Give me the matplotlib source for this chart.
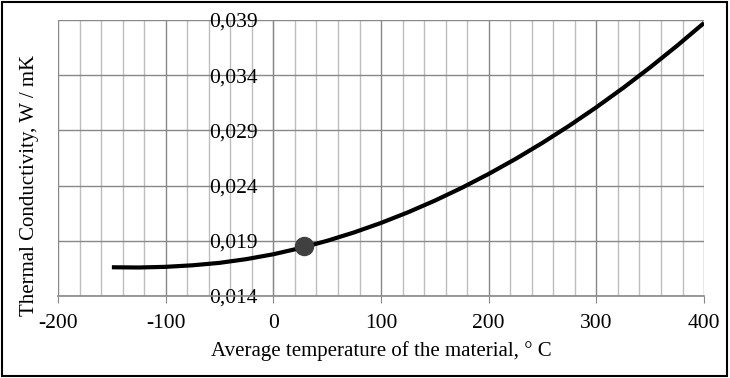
import matplotlib.pyplot as plt
from matplotlib.patches import Rectangle
from matplotlib.ticker import MultipleLocator

# values
temperature = [-150, -125, -100, -75, -50, -25, 0, 25, 50, 75, 100, 125, 150,
               175, 200, 225, 250, 275, 300, 325, 350, 375, 400]
conductivity = [0.01660, 0.01658, 0.01664, 0.01678, 0.01700, 0.01734, 0.01778,
                0.01834, 0.01900, 0.01976, 0.02062, 0.02158, 0.02264, 0.02380,
                0.02506, 0.02642, 0.02788, 0.02944, 0.03110, 0.03286, 0.03472,
                0.03668, 0.03874]
point_t = [28]
point_k = [0.0185]

x_ticks = [-200, -100, 0, 100, 200, 300, 400]
y_ticks = [0.014, 0.019, 0.024, 0.029, 0.034, 0.039]
y_labels = ["0,014", "0,019", "0,024", "0,029", "0,034", "0,039"]

plt.rcParams['font.family'] = ['Liberation Serif', 'DejaVu Serif']

fig = plt.figure(figsize=(7.3, 3.78), dpi=100)
ax = fig.add_axes([0.0795, 0.217, 0.885, 0.730])

ax.set_xlim(-200, 400)
ax.set_ylim(0.014, 0.039)
ax.set_xticks(x_ticks)
ax.set_xticklabels([str(v) for v in x_ticks])
ax.xaxis.set_minor_locator(MultipleLocator(20))
ax.set_yticks(y_ticks)
ax.set_yticklabels(y_labels)

ax.grid(which='major', axis='both', color='#888888', lw=1.0, zorder=0)
ax.grid(which='minor', axis='x', color='#bdbdbd', lw=1.0, zorder=0)
ax.set_axisbelow(True)

for s in ['top', 'right']:
    ax.spines[s].set_visible(False)
ax.spines['left'].set_position(('data', 0))
ax.spines['left'].set_color('#888888')
ax.spines['bottom'].set_color('#888888')
ax.spines['bottom'].set_linewidth(1.2)

ax.tick_params(axis='x', which='major', length=5, color='#888888', labelsize=15.5, pad=8)
ax.tick_params(axis='x', which='minor', length=0)
ax.tick_params(axis='y', length=0, labelsize=15.5, pad=11)

ax.plot(temperature, conductivity, color='black', lw=3, solid_capstyle='butt', zorder=3)
ax.plot(point_t, point_k, 'o', color='#404040', ms=13, zorder=4)

ax.set_xlabel('Average temperature of the material, ° C', fontsize=15, labelpad=6)
fig.text(0.041, 0.51, 'Thermal Conductivity, W / mK', fontsize=15,
         rotation=90, ha='center', va='center')

fig.patches.append(Rectangle((0.003, 0.005), 0.993, 0.99, transform=fig.transFigure,
                             fill=False, edgecolor='black', lw=1.5))

fig.savefig('out.png', dpi=100)
